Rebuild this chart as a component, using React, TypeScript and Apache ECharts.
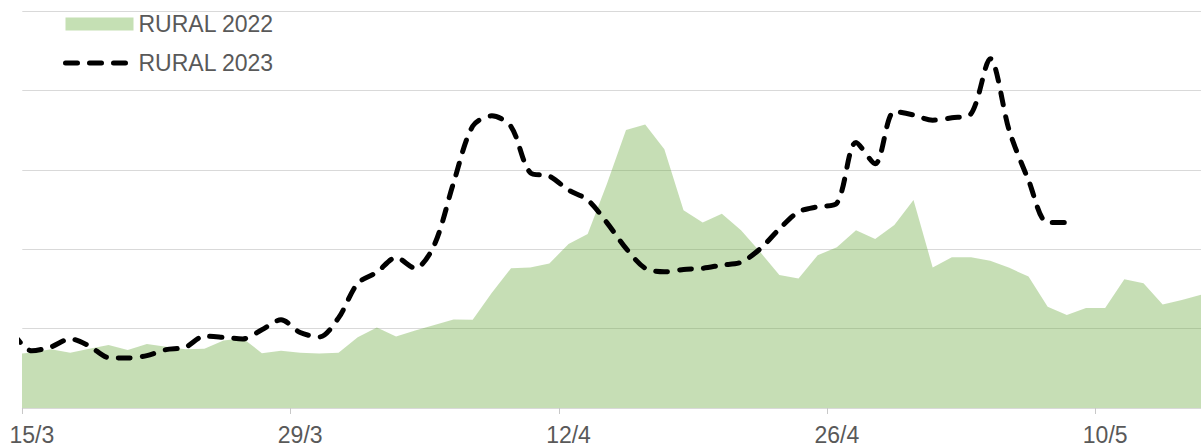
import React, { useEffect, useRef } from "react";
import * as echarts from "echarts";

// Day categories (first one lies just left of the visible plot area)
const dates = [
  "14/3", "15/3", "16/3", "17/3", "18/3", "19/3", "20/3", "21/3", "22/3", "23/3",
  "24/3", "25/3", "26/3", "27/3", "28/3", "29/3", "30/3", "31/3",
  "1/4", "2/4", "3/4", "4/4", "5/4", "6/4", "7/4", "8/4", "9/4", "10/4",
  "11/4", "12/4", "13/4", "14/4", "15/4", "16/4", "17/4", "18/4", "19/4", "20/4",
  "21/4", "22/4", "23/4", "24/4", "25/4", "26/4", "27/4", "28/4", "29/4", "30/4",
  "1/5", "2/5", "3/5", "4/5", "5/5", "6/5", "7/5", "8/5", "9/5", "10/5",
  "11/5", "12/5", "13/5", "14/5", "15/5",
];

const tickLabels = ["15/3", "29/3", "12/4", "26/4", "10/5"];

const rural2022 = [
  13.5, 14.0, 14.8, 13.9, 14.9, 15.9, 14.6, 16.1, 15.4, 14.8,
  14.9, 17.0, 17.6, 13.8, 14.4, 13.9, 13.7, 13.9, 17.8, 20.3,
  18.0, 19.5, 20.9, 22.3, 22.2, 29.0, 35.2, 35.4, 36.4, 41.3,
  43.8, 56.4, 70.0, 71.4, 65.2, 49.8, 46.7, 48.9, 44.8, 39.3,
  33.5, 32.6, 38.5, 40.5, 44.8, 42.6, 46.1, 52.4, 35.4, 38.0,
  38.0, 37.1, 35.3, 33.1, 25.5, 23.4, 25.2, 25.2, 32.4, 31.4,
  26.1, 27.2, 28.5,
];

const rural2023 = [
  18.9, 14.4, 15.4, 17.4, 15.6, 12.7, 12.6, 13.2, 14.7, 15.3,
  18.1, 17.8, 17.4, 19.7, 22.2, 19.0, 17.9, 22.7, 31.4, 34.2,
  37.9, 35.2, 41.1, 56.7, 71.0, 73.6, 70.9, 59.3, 58.4, 54.9,
  52.4, 46.7, 40.2, 35.2, 34.3, 34.9, 35.2, 36.0, 36.7, 40.1,
  45.1, 49.4, 50.7, 51.6, 66.9, 61.5, 74.7, 73.8, 72.5, 73.1,
  74.1, 88.0, 69.8, 57.4, 46.7, 46.7,
];

const FONT = '"Liberation Sans", Arial, sans-serif';
const TEXT = "#595959";
const GRID = "#d9d9d9";

export default function App() {
  const ref = useRef<HTMLDivElement>(null);

  useEffect(() => {
    if (!ref.current) return;
    const chart = echarts.init(ref.current, null, { renderer: "svg" });
    const dayOf = (label: string) => dates.indexOf(label) - 1;
    const labelVals = tickLabels.map(dayOf);
    const tickVals = labelVals.map((v) => v - 0.5);
    const lineDash = [12, 12];

    chart.setOption({
      animation: false,
      grid: { left: 22.3, right: 0, top: 11, bottom: 39, containLabel: false },
      legend: {
        orient: "vertical",
        left: 63,
        top: 11,
        padding: 0,
        itemWidth: 68,
        itemHeight: 13,
        itemGap: 13,
        textStyle: { fontSize: 23, color: TEXT, fontFamily: FONT, lineHeight: 26 },
        data: [
          { name: "RURAL 2022", icon: "rect", itemStyle: { color: "#C5E0B4" } },
          {
            name: "RURAL 2023",
            itemStyle: { opacity: 0 },
            lineStyle: { width: 5, type: lineDash, cap: "round", color: "#000" },
          },
        ],
      },
      xAxis: {
        type: "value",
        min: -0.5,
        max: 61,
        axisLine: { show: true, lineStyle: { color: GRID, width: 1 } },
        axisTick: { show: true, length: 6, customValues: tickVals, lineStyle: { color: "#c8c8c8" } },
        axisLabel: { show: false },
        splitLine: { show: false },
      },
      yAxis: {
        type: "value",
        min: 0,
        max: 100,
        interval: 20,
        axisLine: { show: false },
        axisTick: { show: false },
        axisLabel: { show: false },
        splitLine: { show: true, lineStyle: { color: GRID, width: 1 } },
      },
      series: [
        {
          name: "RURAL 2022",
          type: "line",
          symbol: "none",
          data: rural2022.map((v, i) => [i - 1, v]),
          lineStyle: { width: 0 },
          areaStyle: { color: "rgba(112,173,71,0.4)", opacity: 1 },
          clip: true,
          z: 1,
        },
        {
          name: "RURAL 2023",
          type: "line",
          symbol: "none",
          smooth: 0.3,
          data: rural2023.map((v, i) => [i - 1, v]),
          lineStyle: { width: 5, color: "#000", type: lineDash, cap: "round", join: "round" },
          clip: true,
          z: 2,
        },
      ],
    });

    // x-axis labels, placed through the axis scale (centred on each day)
    const axisY = chart.convertToPixel({ yAxisIndex: 0 }, 0) as number;
    const labelEls = tickLabels.map((label) => {
      const x = chart.convertToPixel({ xAxisIndex: 0 }, dayOf(label)) as number;
      return {
        type: "text",
        x,
        y: axisY + 15,
        silent: true,
        style: {
          text: label,
          align: "center",
          verticalAlign: "top",
          fontSize: 23,
          fontFamily: FONT,
          fill: TEXT,
        },
      };
    });
    chart.setOption({ graphic: labelEls });

    return () => chart.dispose();
  }, []);

  return (
    <div
      ref={ref}
      style={{ position: "absolute", left: 0, top: 0, width: 1201, height: 447 }}
    />
  );
}
